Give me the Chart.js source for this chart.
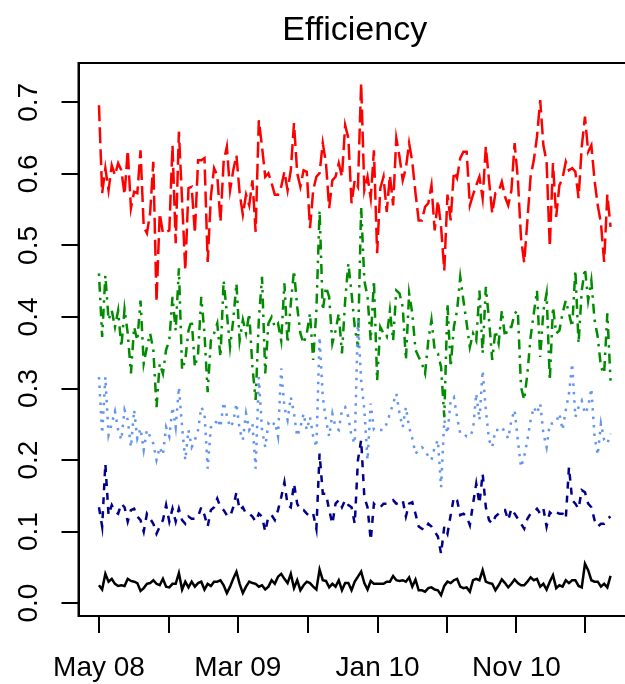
<!DOCTYPE html>
<html>
<head>
<meta charset="utf-8">
<title>Efficiency</title>
<script src="https://cdn.jsdelivr.net/npm/chart.js@4.4.1/dist/chart.umd.min.js"></script>
<style>
  html, body { margin: 0; padding: 0; background: #fff; overflow: hidden; }
  #wrap { width: 640px; height: 684px; }
</style>
</head>
<body>
<div id="wrap"><canvas id="chart" width="640" height="684"></canvas></div>
<script>
// weekly values, first week May 2008
const startDate = Date.UTC(2008, 4, 1);

const red = [0.696,0.573,0.608,0.577,0.612,0.598,0.615,0.605,0.571,0.633,
  0.552,0.575,0.573,0.633,0.526,0.517,0.545,0.617,0.421,0.545,
  0.517,0.519,0.521,0.640,0.503,0.659,0.563,0.465,0.580,0.582,
  0.517,0.619,0.619,0.622,0.477,0.568,0.608,0.598,0.533,0.617,
  0.638,0.577,0.605,0.626,0.573,0.543,0.571,0.556,0.591,0.519,
  0.675,0.638,0.596,0.601,0.587,0.571,0.571,0.582,0.603,0.577,
  0.605,0.671,0.601,0.582,0.605,0.603,0.524,0.577,0.596,0.601,
  0.643,0.615,0.552,0.591,0.596,0.615,0.596,0.668,0.650,0.559,
  0.591,0.582,0.727,0.577,0.596,0.566,0.633,0.489,0.580,0.596,
  0.547,0.598,0.556,0.650,0.624,0.591,0.608,0.643,0.617,0.573,
  0.535,0.535,0.554,0.559,0.584,0.521,0.563,0.526,0.465,0.571,
  0.535,0.603,0.594,0.622,0.631,0.631,0.556,0.571,0.584,0.596,
  0.566,0.638,0.591,0.545,0.573,0.575,0.589,0.568,0.556,0.577,
  0.643,0.594,0.510,0.476,0.535,0.596,0.619,0.652,0.703,0.640,
  0.617,0.498,0.615,0.540,0.584,0.594,0.617,0.605,0.608,0.603,
  0.566,0.638,0.680,0.631,0.640,0.591,0.556,0.531,0.477,0.571,
  0.526];

const green = [0.461,0.372,0.458,0.396,0.409,0.386,0.409,0.358,0.411,0.377,
  0.321,0.386,0.367,0.423,0.335,0.358,0.377,0.354,0.274,0.335,
  0.321,0.354,0.367,0.428,0.381,0.468,0.326,0.340,0.381,0.396,
  0.330,0.349,0.428,0.377,0.295,0.367,0.377,0.391,0.344,0.451,
  0.405,0.358,0.396,0.447,0.367,0.396,0.377,0.405,0.330,0.284,
  0.396,0.456,0.321,0.391,0.400,0.386,0.391,0.367,0.447,0.363,
  0.419,0.465,0.414,0.377,0.363,0.377,0.405,0.340,0.409,0.549,
  0.409,0.442,0.428,0.363,0.381,0.405,0.349,0.423,0.475,0.433,
  0.386,0.358,0.554,0.451,0.428,0.367,0.451,0.311,0.386,0.377,
  0.372,0.409,0.367,0.437,0.433,0.414,0.340,0.433,0.405,0.354,
  0.344,0.335,0.321,0.367,0.396,0.354,0.349,0.330,0.260,0.419,
  0.330,0.386,0.409,0.456,0.423,0.391,0.358,0.377,0.367,0.437,
  0.349,0.442,0.396,0.340,0.381,0.363,0.409,0.372,0.386,0.386,
  0.405,0.409,0.302,0.284,0.321,0.372,0.405,0.437,0.344,0.409,
  0.433,0.311,0.414,0.377,0.381,0.405,0.423,0.405,0.386,0.465,
  0.363,0.437,0.468,0.423,0.451,0.396,0.372,0.330,0.321,0.405,
  0.311];

const blue = [0.316,0.237,0.316,0.235,0.251,0.268,0.242,0.228,0.270,0.256,
  0.218,0.270,0.230,0.244,0.214,0.242,0.233,0.223,0.200,0.218,
  0.207,0.246,0.233,0.274,0.246,0.302,0.246,0.200,0.242,0.218,
  0.228,0.242,0.274,0.265,0.188,0.246,0.246,0.258,0.246,0.281,
  0.262,0.246,0.253,0.279,0.242,0.228,0.265,0.242,0.251,0.188,
  0.316,0.242,0.218,0.251,0.246,0.253,0.233,0.328,0.274,0.256,
  0.288,0.265,0.233,0.246,0.265,0.242,0.260,0.233,0.218,0.372,
  0.288,0.256,0.233,0.265,0.246,0.242,0.270,0.274,0.260,0.233,
  0.223,0.395,0.312,0.270,0.200,0.279,0.242,0.242,0.242,0.242,
  0.251,0.265,0.279,0.293,0.265,0.246,0.274,0.246,0.230,0.209,
  0.214,0.218,0.214,0.205,0.200,0.218,0.228,0.162,0.256,0.237,
  0.283,0.288,0.260,0.237,0.237,0.233,0.233,0.242,0.293,0.256,
  0.325,0.270,0.228,0.218,0.242,0.242,0.246,0.239,0.230,0.256,
  0.270,0.228,0.190,0.205,0.228,0.256,0.274,0.265,0.279,0.237,
  0.218,0.251,0.251,0.253,0.265,0.242,0.270,0.293,0.335,0.260,
  0.274,0.283,0.265,0.274,0.300,0.233,0.207,0.251,0.228,0.223,
  0.237];

const navy = [0.134,0.107,0.195,0.123,0.137,0.128,0.125,0.139,0.134,0.114,
  0.130,0.132,0.121,0.116,0.100,0.125,0.118,0.111,0.097,0.107,
  0.116,0.137,0.114,0.132,0.114,0.132,0.116,0.111,0.121,0.118,
  0.118,0.121,0.134,0.123,0.107,0.130,0.134,0.146,0.134,0.130,
  0.123,0.121,0.134,0.155,0.130,0.134,0.125,0.125,0.121,0.114,
  0.125,0.121,0.100,0.121,0.123,0.116,0.130,0.148,0.169,0.137,
  0.134,0.167,0.139,0.130,0.130,0.125,0.121,0.125,0.104,0.209,
  0.153,0.153,0.130,0.111,0.139,0.144,0.134,0.144,0.137,0.134,
  0.111,0.200,0.228,0.148,0.134,0.088,0.139,0.134,0.134,0.139,
  0.139,0.141,0.144,0.139,0.141,0.144,0.121,0.139,0.141,0.125,
  0.107,0.104,0.102,0.111,0.107,0.100,0.093,0.069,0.107,0.097,
  0.123,0.148,0.144,0.123,0.125,0.121,0.109,0.139,0.167,0.139,
  0.181,0.134,0.116,0.111,0.121,0.125,0.130,0.130,0.116,0.132,
  0.125,0.118,0.111,0.104,0.118,0.125,0.127,0.132,0.125,0.132,
  0.107,0.127,0.123,0.127,0.125,0.125,0.118,0.190,0.144,0.139,
  0.132,0.158,0.155,0.139,0.134,0.116,0.107,0.111,0.111,0.118,
  0.121];

const black = [0.025,0.019,0.041,0.030,0.034,0.027,0.024,0.025,0.024,0.034,
  0.031,0.030,0.028,0.017,0.021,0.027,0.028,0.032,0.027,0.025,
  0.034,0.023,0.022,0.027,0.027,0.042,0.019,0.030,0.022,0.030,
  0.023,0.028,0.030,0.019,0.027,0.024,0.030,0.030,0.032,0.025,
  0.014,0.023,0.034,0.044,0.027,0.014,0.023,0.030,0.028,0.027,
  0.023,0.025,0.019,0.023,0.032,0.027,0.037,0.041,0.034,0.028,
  0.041,0.021,0.032,0.018,0.025,0.030,0.028,0.023,0.019,0.047,
  0.032,0.031,0.022,0.027,0.023,0.032,0.018,0.028,0.028,0.018,
  0.030,0.037,0.044,0.028,0.019,0.031,0.027,0.027,0.027,0.027,
  0.030,0.030,0.038,0.032,0.031,0.032,0.030,0.036,0.023,0.033,
  0.018,0.018,0.016,0.021,0.022,0.019,0.018,0.011,0.024,0.030,
  0.028,0.032,0.034,0.023,0.021,0.022,0.016,0.032,0.034,0.032,
  0.046,0.030,0.028,0.027,0.018,0.025,0.033,0.028,0.022,0.027,
  0.033,0.028,0.025,0.025,0.030,0.036,0.032,0.034,0.023,0.027,
  0.019,0.030,0.039,0.021,0.025,0.023,0.032,0.028,0.032,0.032,
  0.024,0.022,0.055,0.046,0.032,0.030,0.030,0.023,0.027,0.022,
  0.038];

// axis ticks: every 5 months, label every other one
const tickMonths = [[2008, 4], [2008, 9], [2009, 2], [2009, 7], [2010, 0], [2010, 5], [2010, 10], [2011, 3]];
const tickLabels = ['May 08', '', 'Mar 09', '', 'Jan 10', '', 'Nov 10', ''];
const yTicks = [0, 0.1, 0.2, 0.3, 0.4, 0.5, 0.6, 0.7];

const DAY = 86400000;
const startDay = startDate / DAY;
const tickDays = tickMonths.map(m => Date.UTC(m[0], m[1], 1) / DAY);
const span = (red.length - 1) * 7;
const xMin = startDay - 0.04 * span;
const xMax = startDay + span + 0.04 * span;

const fontFamily = '"Liberation Sans", Arial, Helvetica, sans-serif';

function toPoints(values) {
    return values.map((v, i) => ({ x: startDay + 7 * i, y: v }));
}

function series(values, color, dash) {
    return {
        data: toPoints(values),
        borderColor: color,
        borderWidth: 2.5,
        borderDash: dash,
        pointRadius: 0,
        fill: false,
        tension: 0
    };
}

// frame, title and rotated y labels (R style)
const frame = {
    id: 'frame',
    afterDraw(chart) {
        const ctx = chart.ctx;
        const a = chart.chartArea;
        const y = chart.scales.y;
        ctx.save();
        ctx.strokeStyle = '#000';
        ctx.lineWidth = 2;
        ctx.strokeRect(a.left, a.top, a.right - a.left, a.bottom - a.top);

        ctx.fillStyle = '#000';
        ctx.textAlign = 'center';
        ctx.textBaseline = 'middle';
        ctx.font = '34px ' + fontFamily;
        ctx.fillText('Efficiency', (a.left + a.right) / 2, 31);

        ctx.font = '28px ' + fontFamily;
        yTicks.forEach(v => {
            ctx.save();
            ctx.translate(29, y.getPixelForValue(v));
            ctx.rotate(-Math.PI / 2);
            ctx.fillText(v.toFixed(1), 0, 0);
            ctx.restore();
        });
        ctx.restore();
    }
};

new Chart(document.getElementById('chart'), {
    type: 'line',
    data: {
        datasets: [
            series(black, '#000000', []),
            series(navy, '#00008B', [7, 7]),
            series(blue, '#6495ED', [2.5, 6]),
            series(green, '#008B00', [2.5, 6, 10, 6]),
            series(red, '#FF0000', [16, 6])
        ]
    },
    options: {
        responsive: false,
        animation: false,
        devicePixelRatio: 1,
        layout: { padding: { top: 63, right: 9, left: 0, bottom: 0 } },
        plugins: {
            legend: { display: false },
            tooltip: { enabled: false },
            title: { display: false }
        },
        scales: {
            x: {
                type: 'linear',
                min: xMin,
                max: xMax,
                afterBuildTicks: s => { s.ticks = tickDays.map(v => ({ value: v })); },
                afterFit: s => { s.height = 68; },
                ticks: {
                    autoSkip: false,
                    maxRotation: 0,
                    color: '#000',
                    padding: 18,
                    font: { family: fontFamily, size: 28 },
                    callback: v => {
                        const i = tickDays.indexOf(v);
                        return i >= 0 ? tickLabels[i] : '';
                    }
                },
                grid: { drawOnChartArea: false, drawTicks: true, tickLength: 17, color: '#000', lineWidth: 2 },
                border: { display: true, color: '#000', width: 2 }
            },
            y: {
                min: -0.018,
                max: 0.755,
                afterBuildTicks: s => { s.ticks = yTicks.map(v => ({ value: v })); },
                afterFit: s => { s.width = 78.5; },
                ticks: { display: false },
                grid: { drawOnChartArea: false, drawTicks: true, tickLength: 17, color: '#000', lineWidth: 2 },
                border: { display: true, color: '#000', width: 2 }
            }
        }
    },
    plugins: [frame]
});
</script>
</body>
</html>
